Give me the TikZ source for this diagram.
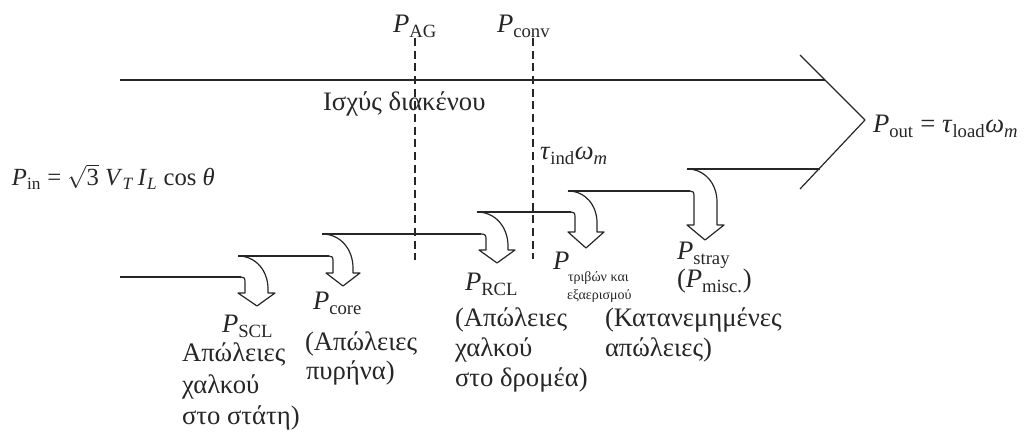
\documentclass[tikz,border=0pt]{standalone}
\usepackage{amsmath}
\usepackage{fontspec}
\setmainfont{Liberation Serif}
\newcommand{\Pl}[1]{\textit{P}\textsubscript{#1}}
\newcommand{\lossarrow}[9]{%
  \draw[arrowline] (#1,#2) .. controls ({#1+0.6*(#6-#1)},#2) and (#6,{#2+0.45*min(#7-#2,1.1*(#6-#1))}) .. (#6,{#2+min(#7-#2,1.1*(#6-#1))})
    -- (#6,#7) -- ({#6+7},#7) -- (#8,#9) -- ({#5-7},#7) -- (#5,#7) -- (#5,{#4+5})
    .. controls (#5,{#4+1}) and ({#5-1},#4) .. (#3,#4);}
\begin{document}
\begin{tikzpicture}[x=0.75pt,y=-0.75pt, color=black!85,
  arrowline/.style={line width=0.9pt, line join=round},
  flow/.style={line width=0.9pt},
  divider/.style={line width=0.8pt, dash pattern=on 6pt off 3.5pt},
  lbl/.style={inner sep=0pt, outer sep=0pt, font=\fontsize{20}{24}\selectfont},
  eq/.style={inner sep=0pt, outer sep=0pt, font=\fontsize{18.5}{22}\selectfont},
  tiny/.style={inner sep=0pt, outer sep=0pt, font=\fontsize{10.5}{12}\selectfont}]
\useasboundingbox (0,0) rectangle (1030,448);

% main arrow
\draw[flow] (120,80) -- (825,80);
\draw[arrowline] (800,55) -- (865,120) -- (800,189);
% levels
\draw[flow] (120,277) -- (241,277);
\draw[flow] (238,256) -- (329,256);
\draw[flow] (322,234) -- (481,234);
\draw[flow] (477,212) -- (571,212);
\draw[flow] (568,191) -- (690,191);
\draw[flow] (687,169) -- (820,169);
% loss arrows
\lossarrow{238}{256}{241}{277}{245}{268}{293}{257}{306}
\lossarrow{322}{234}{329}{256}{333}{353}{273}{343}{286}
\lossarrow{477}{212}{481}{234}{486}{508}{250}{497}{263}
\lossarrow{568}{191}{571}{212}{575}{597}{232}{586}{248}
\lossarrow{687}{169}{690}{191}{694}{717}{225}{705}{240}
% dividers
\draw[divider] (415,38) -- (415,260);
\draw[divider] (533,38) -- (533,259);

% top labels
\node[lbl, anchor=base] (pag) at (415,33) {\Pl{AG}};
\node[lbl, anchor=base west] (pconv) at (497,33) {\Pl{conv}};
\node[lbl, anchor=base west] (gap) at (323,111) {Ισχύς διακένου};
\node[lbl, anchor=base west] (tind) at (540,160) {\textit{τ}\textsubscript{ind}\textit{ω}\textsubscript{\textit{m}}};
\node[lbl, anchor=base west] (pout) at (873,133) {\Pl{out} = \textit{τ}\textsubscript{load}\textit{ω}\textsubscript{\textit{m}}};
\node[eq, anchor=base west] (pin) at (12,186) {\Pl{in} = $\sqrt{\text{3}}$ \textit{V}\textsubscript{\textit{T}}\,\textit{I}\textsubscript{\textit{L}} cos \textit{θ}};

% SCL
\node[lbl, anchor=base west] (pscl) at (222,333) {\Pl{SCL}};
\node[lbl, anchor=base west] (scl1) at (182,362) {Απώλειες};
\node[lbl, anchor=base west] (scl2) at (182,393) {χαλκού};
\node[lbl, anchor=base west] (scl3) at (182,424) {στο στάτη)};
% core
\node[lbl, anchor=base west] (pcore) at (313,310) {\Pl{core}};
\node[lbl, anchor=base west] (core1) at (305,350) {(Απώλειες};
\node[lbl, anchor=base west] (core2) at (306,379) {πυρήνα)};
% RCL
\node[lbl, anchor=base west] (prcl) at (465,291) {\Pl{RCL}};
\node[lbl, anchor=base west] (rcl1) at (455,327) {(Απώλειες};
\node[lbl, anchor=base west] (rcl2) at (455,357) {χαλκού};
\node[lbl, anchor=base west] (rcl3) at (455,387) {στο δρομέα)};
% friction and windage
\node[lbl, anchor=base west] (pfw) at (553,270) {\textit{P}};
\node[tiny, anchor=base west] (fw1) at (568,282) {τριβών και};
\node[tiny, anchor=base west] (fw2) at (567,300) {εξαερισμού};
% stray
\node[lbl, anchor=base west] (pstray) at (677,260) {\Pl{stray}};
\node[lbl, anchor=base west] (pmisc) at (677,288) {(\Pl{misc.})};
\node[lbl, anchor=base west] (str1) at (605,327) {(Κατανεμημένες};
\node[lbl, anchor=base west] (str2) at (605,357) {απώλειες)};
\end{tikzpicture}
\end{document}
